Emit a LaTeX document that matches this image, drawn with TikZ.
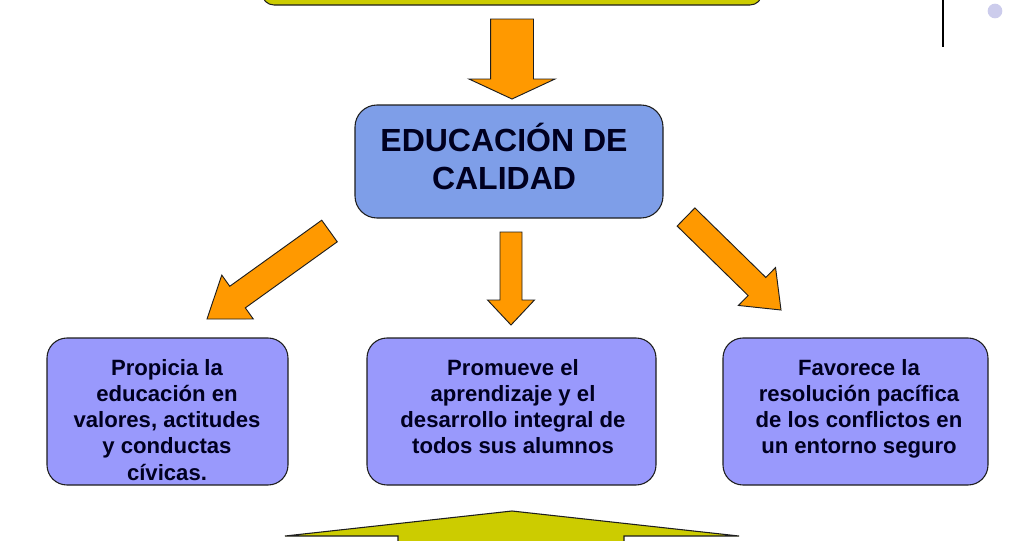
\documentclass[tikz,border=0pt]{standalone}
\usepackage{fontspec}
\setmainfont{Liberation Sans}
\usetikzlibrary{calc}
\definecolor{olive}{RGB}{204,204,0}
\definecolor{orng}{RGB}{255,153,0}
\definecolor{titleblue}{RGB}{126,158,232}
\definecolor{boxblue}{RGB}{153,153,252}
\definecolor{navy}{RGB}{0,0,32}
\definecolor{dotgray}{RGB}{204,204,236}
\definecolor{edge}{RGB}{30,30,30}
\newcommand\blkarrow[6]{%
  \coordinate (ba) at ($(#3)!#6!(#2)$);
  \draw[#1] ($(#2)!#4!90:(#3)$) -- ($(ba)!#4!90:(#3)$) -- ($(ba)!#5!90:(#3)$)
    -- (#3) -- ($(ba)!#5!-90:(#3)$) -- ($(ba)!#4!-90:(#3)$) -- ($(#2)!#4!-90:(#3)$) -- cycle;
}
\tikzset{
  roundbox/.style={draw=edge, line width=0.8pt, rounded corners=15pt, inner sep=0pt},
  orangearrow/.style={fill=orng, draw=edge, line width=0.7pt, line join=miter},
  yellowshape/.style={fill=olive, draw=edge, line width=0.8pt},
  boxtext/.style={text=navy, align=center, anchor=base, inner sep=0pt,
    font=\fontsize{16.6}{19.7}\selectfont\bfseries},
  titletext/.style={text=navy, align=center, anchor=base, inner sep=0pt,
    font=\fontsize{24}{28.5}\selectfont\bfseries},
}
\begin{document}
\begin{tikzpicture}[x=0.75pt,y=-0.75pt]
\useasboundingbox (0,0) rectangle (1022,540);
\clip (0,0) rectangle (1022,540);
\fill[white] (0,0) rectangle (1022,540);

% top yellow box (cut off)
\node[roundbox, fill=olive, rounded corners=9pt, minimum width=375pt, minimum height=45pt] (topbox) at (512,-25) {};

% title box
\node[roundbox, fill=titleblue, rounded corners=16.5pt, minimum width=231pt, minimum height=84.75pt] (title) at (509,161.5) {};
\node[titletext] (titlelbl) at (504,189) {EDUCACIÓN DE\\CALIDAD};

% bottom boxes
\node[roundbox, fill=boxblue, minimum width=180.75pt, minimum height=110.25pt] (left) at (167.5,411.5) {};
\node[roundbox, fill=boxblue, minimum width=216.75pt, minimum height=110.25pt] (mid) at (511.5,411.5) {};
\node[roundbox, fill=boxblue, minimum width=198.75pt, minimum height=110.25pt] (right) at (855.5,411.5) {};
\node[boxtext] (leftlbl) at (167,480.2) {Propicia la\\educación en\\valores, actitudes\\y conductas\\cívicas.};
\node[boxtext] (midlbl) at (513,453.9) {Promueve el\\aprendizaje y el\\desarrollo integral de\\todos sus alumnos};
\node[boxtext] (rightlbl) at (859,453.9) {Favorece la\\resolución pacífica\\de los conflictos en\\un entorno seguro};

% orange block arrows
\coordinate (aS0) at (512,19);   \coordinate (aT0) at (512,99);
\coordinate (aS1) at (329.5,231); \coordinate (aT1) at (207,319);
\coordinate (aS2) at (511,232);  \coordinate (aT2) at (511,325);
\coordinate (aS3) at (686,217);  \coordinate (aT3) at (781,310);
\blkarrow{orangearrow}{aS0}{aT0}{16.1pt}{32.25pt}{15pt}
\blkarrow{orangearrow}{aS1}{aT1}{9.98pt}{20.25pt}{28.2pt}
\blkarrow{orangearrow}{aS2}{aT2}{8.25pt}{17.6pt}{18.75pt}
\blkarrow{orangearrow}{aS3}{aT3}{9.5pt}{19.9pt}{25.2pt}

% bottom yellow block arrow (cut off)
\coordinate (yT) at (512,511);
\draw[yellowshape] (yT) -- (739,536) -- (624,536) -- (624,560) -- (398,560) -- (398,536) -- (285,536) -- cycle;

% top-right decoration
\coordinate (vl0) at (943,-2);
\coordinate (vl1) at (943,47);
\draw[black, line width=1.5pt] (vl0) -- (vl1);
\fill[dotgray] (995,11) circle (5.5pt);
\end{tikzpicture}
\end{document}
